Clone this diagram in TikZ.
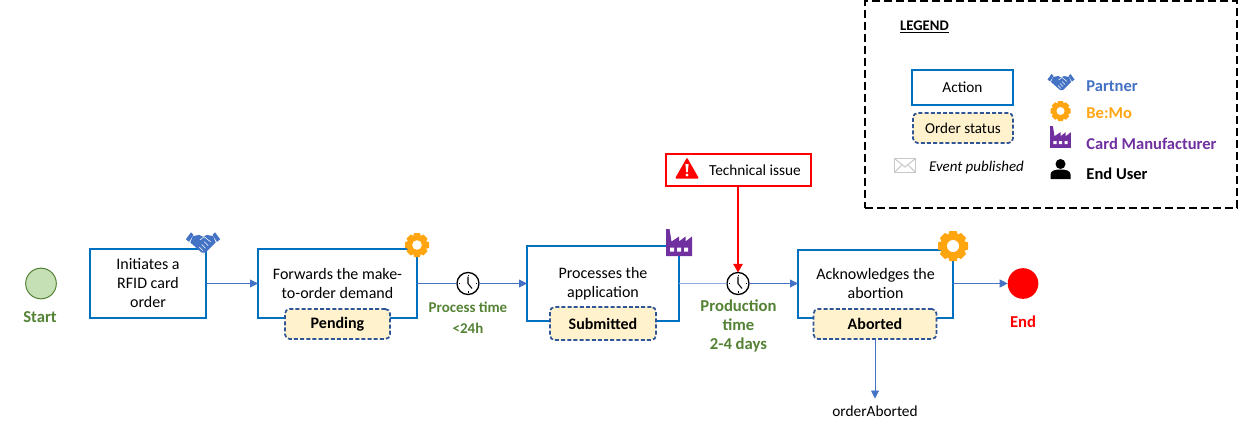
\documentclass[tikz,border=0pt]{standalone}
\usepackage{fontspec}
\setmainfont{Carlito}
\usetikzlibrary{positioning, arrows.meta}

\definecolor{boxblue}{HTML}{0070C0}
\definecolor{flowblue}{HTML}{4472C4}
\definecolor{statusfill}{HTML}{FFF2CC}
\definecolor{statusline}{HTML}{2F5597}
\definecolor{timegreen}{HTML}{548235}
\definecolor{startfill}{HTML}{C5E0B4}
\definecolor{gearorange}{HTML}{FFA50F}
\definecolor{plantpurple}{HTML}{7030A0}
\definecolor{mailgray}{HTML}{C8C8C8}

\tikzset{
	every node/.style={outer sep=0pt, font=\fontsize{12}{14.25}\selectfont},
	actionbox/.style={draw=boxblue, line width=1.5pt, fill=white, align=center, inner sep=0pt},
	statusbox/.style={draw=statusline, line width=1.3pt, dash pattern=on 3pt off 1.6pt, fill=statusfill, rounded corners=3.5pt, inner sep=0pt},
	clocknode/.style={circle, draw=black, line width=1pt, fill=white, minimum size=16.5pt, inner sep=0pt},
	endpoint/.style={circle, minimum size=23pt, inner sep=0pt},
	flow/.style={color=flowblue, line width=.65pt, -{Triangle[length=6pt, width=6pt]}},
	greentext/.style={text=timegreen, font=\fontsize{12.5}{14.25}\selectfont\bfseries, align=center},
	keytext/.style={anchor=west, font=\fontsize{12.4}{14.25}\selectfont\bfseries},
	gearicon/.pic={
		\foreach \a in {0,45,...,315}{
			\fill[gearorange, rotate=\a] (-2.4,-10) -- (2.4,-10) -- (3.8,-5.5) -- (-3.8,-5.5) -- cycle;
		}
		\fill[gearorange] (0,0) circle (7);
		\fill[white] (0,0) circle (4);
	},
	handicon/.pic={
		\fill[flowblue] (-13.5,-2.5) -- (-9.5,-8) -- (-7.5,-6) -- (-11,-.5) -- cycle;
		\fill[flowblue] (13.5,-2.5) -- (9.5,-8) -- (7.5,-6) -- (11,-.5) -- cycle;
		\fill[flowblue] (-8,-5) -- (-3,-6) -- (0,-4.5) -- (3,-6) -- (8,-5) -- (10,0) -- (2,8) -- (-1,8) -- (-10,0) -- cycle;
		\draw[white, line width=.4pt] (-2.5,-2) -- (1,-4.5) -- (6,-.5) (-3,3.5) -- (0,6.5) (-1,1.5) -- (2,4.5) (1,-.5) -- (4,2.5);
	},
	planticon/.pic={
		\fill[plantpurple] (-13,13.5) -- (-13,-13.5) -- (-9.5,-13.5) -- (-7.5,-1) -- (0,-6) -- (0,-1) -- (6.5,-6) -- (6.5,-1) -- (13,-6) -- (13,13.5) -- cycle;
		\fill[white] (-9,5) rectangle (-5,9) (-2,5) rectangle (2,9) (5,5) rectangle (9,9);
	},
	usericon/.pic={
		\fill[black] (0,-8.5) circle (5);
		\fill[black] (-10,6.5) -- (-10,2) .. controls (-10,-2) and (-5,-3) .. (0,-3) .. controls (5,-3) and (10,-2) .. (10,2) -- (10,6.5) -- cycle;
	},
	mailicon/.pic={
		\draw[mailgray, line width=1.1pt] (-10.5,-7) rectangle (10.5,7);
		\draw[mailgray, line width=.75pt] (-10.5,-7) -- (0,1.5) -- (10.5,-7) (-10.5,7) -- (-3,-.8) (10.5,7) -- (3,-.8);
	},
	alerticon/.pic={
		\fill[red, rounded corners=.8pt] (-12,10.5) -- (0,-10.5) -- (12,10.5) -- cycle;
		\fill[white] (-1.6,-4) -- (1.6,-4) -- (.8,4) -- (-.8,4) -- cycle;
		\fill[white] (0,7) circle (1.6);
	},
	clockhands/.pic={
		\draw[black, line width=.8pt] (0,-7) -- (0,0) -- (4,5);
		\foreach \a in {0,90,180,270}{
			\fill[black, rotate=\a] (-.5,-9) rectangle (.5,-7.8);
		}
	}
}

\begin{document}
\begin{tikzpicture}[x=.75pt, y=-.75pt]
	\useasboundingbox (0,0) rectangle (1251,429);

	% main line
	\node[endpoint, draw=timegreen, line width=.75pt, fill=startfill] (start) at (41,283.5) {};
	\node[actionbox, minimum width=87pt, minimum height=51.75pt, right=25.25pt of start] (initiate) {Initiates a\\RFID card\\order};
	\node[actionbox, minimum width=119.25pt, minimum height=51.75pt, right=39pt of initiate] (forward) {Forwards the make-\\to-order demand};
	\node[clocknode, right=30pt of forward] (proctime) {};
	\node[actionbox, minimum width=114pt, minimum height=56.25pt, right=36pt of proctime] (process) {Processes the\\application};
	\node[clocknode, right=36pt of process] (prodtime) {};
	\node[actionbox, minimum width=116.25pt, minimum height=51pt, right=36.75pt of prodtime] (acknowledge) {Acknowledges the\\abortion};
	\node[endpoint, fill=red, right=41pt of acknowledge] (finish) {};

	% order states
	\node[statusbox, minimum width=78.75pt, minimum height=22.5pt] (pending) at (337.5,324) {\bfseries Pending};
	\node[statusbox, minimum width=79.5pt, minimum height=24.75pt] (submitted) at (603,323.5) {\bfseries Submitted};
	\node[statusbox, minimum width=92.25pt, minimum height=22.5pt] (aborted) at (875,324) {\bfseries Aborted};

	% issue
	\node[draw=red, line width=1.5pt, minimum width=108.75pt, minimum height=24pt, inner sep=0pt, above=64.875pt of prodtime] (issue) {};
	\node (issuetext) at (755,170) {\fontsize{11.5}{14.25}\selectfont Technical issue};
	\pic at (687,168) {alerticon};

	% labels
	\node[greentext] (startlabel) at (40,317.5) {Start};
	\node[greentext, text=red] (endlabel) at (1023,321.5) {End};
	\node[greentext, font=\fontsize{11.2}{16}\selectfont\bfseries] (proclabel) at (468,318) {Process time\\<24h};
	\node[greentext, font=\fontsize{12.5}{14.25}\selectfont\bfseries] (prodlabel) at (738.5,326) {Production\\time\\2-4 days};
	\node (eventname) at (875,411) {\fontsize{11.5}{14.25}\selectfont orderAborted};

	\path[flow]
	(initiate) edge (forward)
	(acknowledge) edge (finish)
	(proctime) edge (process)
	(prodtime) edge (acknowledge)
	(aborted) edge[shorten >=2pt] (eventname);
	\draw[flowblue, line width=.65pt] (forward) -- (proctime);
	\draw[flowblue!60, line width=.65pt] (process) -- (prodtime);
	\draw[red, line width=1.4pt, -{Triangle[length=6.5pt, width=7pt]}] (issue) -- (prodtime);

	% icons
	\pic[scale=1.27] at (203,242.5) {handicon};
	\pic[scale=1.2] at (417,245) {gearicon};
	\pic at (679,242.5) {planticon};
	\pic[scale=1.5] at (953,246) {gearicon};
	\pic at (proctime) {clockhands};
	\pic at (prodtime) {clockhands};

	% legend
	\node[draw=black, line width=.8pt, dash pattern=on 6pt off 3pt, minimum width=279pt, minimum height=155.25pt, inner sep=0pt] (legend) at (1051,104.5) {};
	\node[font=\fontsize{11}{14.25}\selectfont\bfseries] (legendtitle) at (924.5,27) {\underline{LEGEND}};
	\node[actionbox, minimum width=75.75pt, minimum height=26.25pt] (actionkey) at (962.5,87.5) {\fontsize{11.5}{14.25}\selectfont Action};
	\node[statusbox, minimum width=75pt, minimum height=22.5pt] (statuskey) at (963,128) {\fontsize{11.3}{14.25}\selectfont Order status};
	\pic at (905,165.5) {mailicon};
	\node[font=\fontsize{11.2}{14.25}\selectfont\itshape] (eventkey) at (976.5,168) {Event published};
	\pic at (1061,82) {handicon};
	\pic at (1060.5,111) {gearicon};
	\pic[scale=.8] at (1060.5,137) {planticon};
	\pic at (1060.5,172.5) {usericon};
	\node[keytext, text=flowblue] (partnerkey) at (1082,86) {Partner};
	\node[keytext, text=gearorange] (bemokey) at (1082,113) {Be:Mo};
	\node[keytext, text=plantpurple] (makerkey) at (1082,144) {Card Manufacturer};
	\node[keytext] (userkey) at (1082,174) {End User};
\end{tikzpicture}
\end{document}
